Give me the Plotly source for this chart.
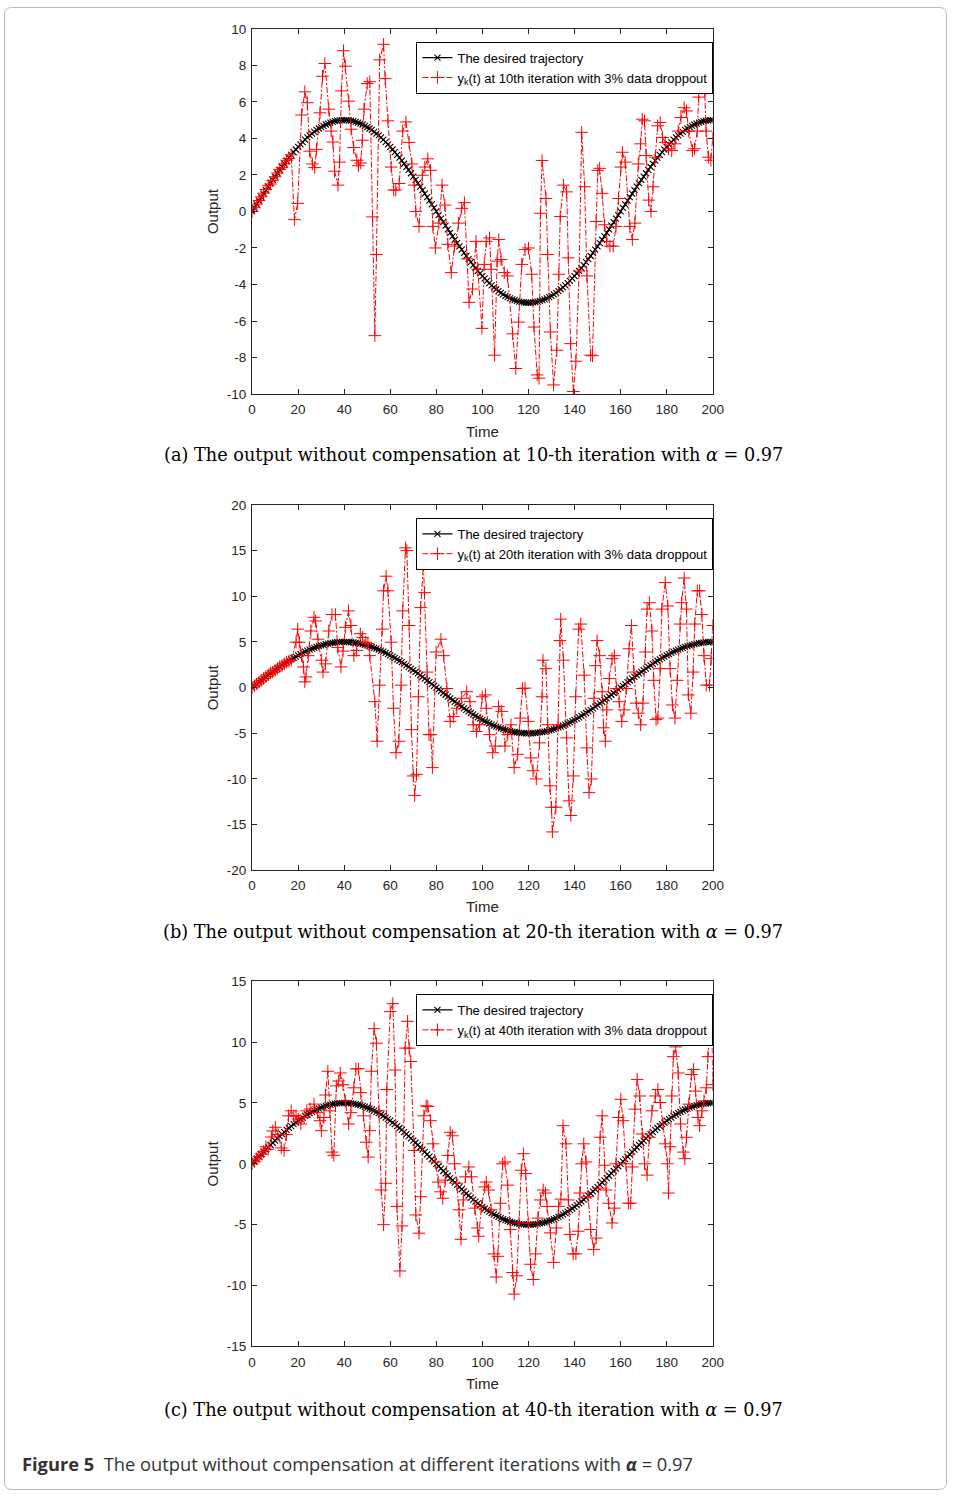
import plotly.graph_objects as go

# ---------------- data ----------------
time_desired = list(range(0, 201))
desired = [
    0.00, 0.20, 0.39, 0.59, 0.78, 0.98, 1.17, 1.36, 1.55, 1.73, 1.91, 2.09, 2.27, 2.44, 2.61, 2.78, 2.94, 3.10, 3.25, 3.39,
    3.54, 3.67, 3.80, 3.93, 4.05, 4.16, 4.26, 4.36, 4.46, 4.54, 4.62, 4.69, 4.76, 4.81, 4.86, 4.90, 4.94, 4.97, 4.98, 5.00,
    5.00, 5.00, 4.98, 4.97, 4.94, 4.90, 4.86, 4.81, 4.76, 4.69, 4.62, 4.54, 4.46, 4.36, 4.26, 4.16, 4.05, 3.93, 3.80, 3.67,
    3.54, 3.39, 3.25, 3.10, 2.94, 2.78, 2.61, 2.44, 2.27, 2.09, 1.91, 1.73, 1.55, 1.36, 1.17, 0.98, 0.78, 0.59, 0.39, 0.20,
    0.00, -0.20, -0.39, -0.59, -0.78, -0.98, -1.17, -1.36, -1.55, -1.73, -1.91, -2.09, -2.27, -2.44, -2.61, -2.78, -2.94, -3.10, -3.25, -3.39,
    -3.54, -3.67, -3.80, -3.93, -4.05, -4.16, -4.26, -4.36, -4.46, -4.54, -4.62, -4.69, -4.76, -4.81, -4.86, -4.90, -4.94, -4.97, -4.98, -5.00,
    -5.00, -5.00, -4.98, -4.97, -4.94, -4.90, -4.86, -4.81, -4.76, -4.69, -4.62, -4.54, -4.46, -4.36, -4.26, -4.16, -4.05, -3.93, -3.80, -3.67,
    -3.54, -3.39, -3.25, -3.10, -2.94, -2.78, -2.61, -2.44, -2.27, -2.09, -1.91, -1.73, -1.55, -1.36, -1.17, -0.98, -0.78, -0.59, -0.39, -0.20,
    0.00, 0.20, 0.39, 0.59, 0.78, 0.98, 1.17, 1.36, 1.55, 1.73, 1.91, 2.09, 2.27, 2.44, 2.61, 2.78, 2.94, 3.10, 3.25, 3.39,
    3.54, 3.67, 3.80, 3.93, 4.05, 4.16, 4.26, 4.36, 4.46, 4.54, 4.62, 4.69, 4.76, 4.81, 4.86, 4.90, 4.94, 4.97, 4.98, 5.00,
    5.00,
]

# panel (a): 10th iteration
time_a = [0, 1, 2, 3, 4, 5, 6, 7, 8, 9, 10, 11, 12, 13, 14, 15, 16, 17,
          18.4, 19.8, 21.5, 22.9, 24, 25, 26.2, 27.2, 28, 29.5, 30.6, 31.6, 33.3, 34.3, 35.1, 35.8, 37.3, 38, 38.8, 39.7,
          40.5, 42, 43, 44.1, 45.5, 46.2, 47.2, 47.9, 48.6, 50, 51.1, 52.3, 53.3, 54, 55.4, 57.1, 57.8, 59, 60.4, 61.5,
          62.4, 63.9, 65.4, 66.8, 68.2, 69.4, 70.4, 71.1, 72.5, 73.9, 75, 76.3, 77.5, 78.5, 79.6, 81.1, 82.5, 83.7, 85,
          86.5, 87.9, 89.6, 91, 92.2, 93.4, 94.2, 95.7, 97.2, 98, 99.8, 100.8, 101.7, 103.1, 103.8, 105.3, 106.4, 107.1,
          108.1, 109.5, 110.9, 113.1, 114.5, 115.7, 117.1, 118.5, 120, 121.4, 122.4, 123.8, 124.6, 125.2, 125.9, 127.6,
          128.3, 129.5, 130.9, 132.3, 133.2, 133.8, 135.2, 136.6, 137.3, 138.3, 139.5, 140.6, 142, 143.1, 144.4, 145.4,
          147, 147.8, 149.4, 150.1, 150.9, 152, 153, 154, 155.4, 156.8, 158, 159.1, 160.1, 160.8, 162, 164, 165.1, 166.2,
          167.7, 168.7, 169.4, 170.4, 171.1, 172.2, 173.2, 174.1, 175.1, 176.1, 177.2, 178.2, 179.4, 180.8, 182.2, 183.6,
          185, 186.2, 187.6, 188.6, 189.6, 191.2, 192.1, 193.3, 193.9, 195, 195.7, 196.6, 197.1, 198.1, 199.2, 200]
output_a = [0.0, 0.2, 0.4, 0.6, 0.8, 1.0, 1.2, 1.4, 1.5, 1.7, 1.9, 2.1, 2.3, 2.4, 2.6, 2.8, 2.9, 3.1,
            -0.45, 0.44, 5.28, 6.55, 5.95, 3.3, 2.6, 2.4, 3.4, 5.4, 7.4, 8.1, 5.6, 4.4, 3.8, 2.2, 1.44, 2.7, 6.6, 8.8,
            7.95, 6.04, 4.5, 3.5, 2.8, 2.5, 2.65, 3.9, 5.6, 7.0, 7.1, -0.3, -6.8, -2.36, 8.3, 9.15, 7.27, 4.96, 2.43, 1.17,
            1.17, 1.53, 4.4, 4.9, 3.78, 2.6, 1.44, 0.0, -0.82, 1.98, 2.43, 2.88, 2.25, -0.82, -2.0, -0.64, 1.44, 0.35, -1.8,
            -3.35, -1.9, -0.64, 0.17, 0.48, -2.6, -4.98, -4.25, -1.64, -3.17, -6.4, -2.9, -1.64, -1.45, -3.17, -7.87, -2.72, -1.54,
            -2.63, -3.35, -3.53, -6.7, -8.6, -6.06, -2.9, -2.09, -2.0, -3.44, -6.33, -8.95, -9.13, -0.1, 2.79, 0.71,
            -2.36, -6.6, -9.5, -7.6, -3.44, -0.28, 1.44, 1.07, -2.54, -7.24, -9.86, -8.2, -3.26, 4.33, 1.35, -3.53,
            -7.87, -7.9, -0.55, 2.25, 2.36, 0.99, -0.73, -1.64, -1.9, -1.9, -0.82, 0.71, 2.43, 3.24, 2.7, -0.82, -1.54, -0.64,
            2.6, 3.7, 5.05, 4.96, 3.06, 0.62, 0.0, 1.35, 2.97, 4.69, 4.87, 4.05, 3.78, 3.43, 3.33, 3.7,
            4.4, 5.14, 5.68, 5.5, 4.4, 3.33, 3.43, 4.4, 6.26, 6.76, 7.27, 6.5, 4.4, 2.97, 2.8, 4.0]

# panel (b): 20th iteration
time_b = [0, 1, 2, 3, 4, 5, 6, 7, 8, 9, 10, 11, 12, 13, 14, 15, 16, 17,
          19.1, 19.8, 20.5, 21.5, 22.3, 22.9, 23.4, 24.4, 25.5, 26.9, 27.6, 28.6, 30.2, 30.8, 31.9, 33.3, 34.7, 36.2,
          37.2, 38.6, 39.5, 40.5, 41.9, 42.9, 44.2, 45.4, 47, 48, 49.4, 50.3, 51.1, 53.3, 54.3, 55.4, 56.5, 57.1, 58.2,
          59, 60.4, 61.4, 62.5, 63.7, 64.7, 65.4, 66.6, 67.2, 68.2, 69.2, 70, 70.6, 71.4, 72.2, 73.2, 74.4, 74.9, 76,
          76.8, 77.6, 78.3, 79.9, 82, 83.2, 84.6, 86, 87.4, 88.9, 91, 93.2, 94.6, 96, 97.4, 98.8, 99.9, 101.3, 101.7,
          103.1, 104.5, 105.6, 107, 108.4, 109.8, 111, 112.4, 113.8, 115.3, 116.4, 117.4, 118.5, 119.9, 121, 122, 123.4,
          124.8, 125.9, 126.3, 127.6, 128.3, 129.3, 130, 130.4, 131.9, 132.9, 133.6, 134, 135.2, 136.6, 137.6, 138.4,
          139.5, 140.5, 141.8, 142.7, 144.2, 145.3, 146.3, 147.3, 148.4, 149.1, 149.8, 150.9, 152, 152.6, 153.4, 154,
          155.1, 156.3, 157.3, 158.2, 159.4, 160.5, 161.5, 162.5, 163.7, 164.7, 165.8, 166.8, 167.7, 168.7, 169.7,
          170.8, 171.5, 172.5, 173.6, 174.4, 175.4, 176.2, 177.2, 177.9, 179.4, 180.5, 181.5, 182.5, 183.6, 184.6,
          185.8, 186.5, 187.6, 188.6, 189.4, 190.5, 191.5, 192.2, 193.3, 194.3, 195.3, 196.2, 197.2, 198.6, 199.3, 200]
output_b = [0.0, 0.2, 0.4, 0.6, 0.8, 1.0, 1.2, 1.4, 1.6, 1.7, 1.9, 2.1, 2.3, 2.4, 2.6, 2.8, 2.9, 3.0,
            4.97, 6.4, 4.97, 3.5, 2.26, 0.63, 1.17, 3.5, 6.2, 7.7, 7.3, 5.3, 3.0, 1.7, 2.6, 6.2, 8.0, 8.0,
            4.4, 2.26, 4.0, 6.6, 8.4, 6.8, 3.5, 4.07, 5.9, 5.5, 4.97, 4.8, 3.5, -1.54, -5.87, 0.27, 6.4, 10.6, 12.2,
            10.6, 4.97, -2.26, -7.13, -5.87, 0.27, 8.4, 15.3, 15.0, 6.8, -4.6, -9.67, -11.8, -9.5, -1.0, 8.76, 13.5, 10.4, 1.7,
            -5.15, -5.15, -8.76, 3.9, 5.3, 3.5, -0.1, -3.7, -3.17, -2.26, -1.17, -0.45, -1.54, -4.07, -4.8, -4.07, -1.0, -0.8, -2.26,
            -5.15, -7.13, -6.4, -2.08, -2.6, -6.4, -5.15, -4.07, -8.76, -7.3, -3.34, -0.1, -0.05, -3.7, -7.7, -9.1, -10.0,
            -6.05, -1.0, 3.0, 2.08, -4.07, -10.75, -13.1, -15.8, -13.1, -4.07, 5.15, 7.5, 3.0, -5.5, -12.4, -14.0,
            -9.67, -1.0, 6.4, 6.96, 1.36, -6.6, -11.5, -10.0, -1.17, 2.4, 5.15, 3.5, -0.45, -4.4, -5.87, -2.44,
            1.0, 3.17, 3.5, -0.1, -1.54, -3.7, -2.44, -0.1, 4.25, 6.8, 1.7, -1.7, -2.8, -4.07, -1.7,
            3.9, 8.6, 9.3, 6.2, 0.8, -3.5, -3.34, 2.08, 8.6, 11.5, 8.94, 2.08, -1.9, -3.34, 0.8,
            6.96, 9.3, 12.0, 8.6, -0.8, -2.8, 1.7, 6.96, 10.6, 10.6, 8.0, 3.5, 0.27, 0.27, 3.17, 6.8]

# panel (c): 40th iteration
time_c = [0, 1, 2, 3, 4, 5, 6, 7, 8.4, 9, 10.1, 11.3, 12.7, 13.9, 14.9, 15.8, 17, 18.1, 19.1, 20.1, 21.2, 22.6,
          23.8, 25.2, 26.9, 28.4, 29.5, 30.1, 31.2, 31.9, 32.9, 33.8, 34.7, 35.5, 36.6, 37.6, 38.3, 39.5, 40.5, 41.9,
          42.9, 44.2, 45.1, 46.2, 47.2, 48.4, 49.6, 50.4, 51.1, 51.8, 53, 54, 55.1, 56.1, 57.1, 58, 58.5, 60, 61.1,
          62.1, 62.9, 64.2, 65.1, 66.5, 67.5, 68.2, 68.9, 70.4, 71.1, 72.5, 73.2, 74.6, 75.6, 76.3, 77.5, 78.5, 79.6,
          80.8, 81.8, 82.8, 83.9, 85, 86, 87, 87.9, 88.9, 89.9, 90.7, 91.7, 92.7, 94.1, 95.3, 96.7, 97.9, 98.4, 99.6,
          101, 101.7, 102.7, 103.8, 105, 106, 106.7, 107.8, 108.8, 109.8, 111, 112.1, 113.1, 113.8, 114.9, 115.9,
          116.9, 117.8, 118.8, 119.9, 120.9, 122.1, 123.1, 124.1, 125.2, 126.4, 127.4, 128.1, 129.5, 130.9, 132.1,
          133.1, 134.1, 135, 136.3, 137.3, 138, 139.4, 140.6, 141.6, 142.3, 143.1, 144, 145, 145.9, 147, 148.3, 149.4,
          150.4, 151.1, 152, 153, 153.7, 154.8, 156.3, 157.3, 158, 159.1, 160.1, 161.1, 162.3, 163.4, 164.4, 165.1,
          166.2, 167.2, 168.3, 169.4, 170.4, 171.5, 172.5, 173.6, 175.1, 176.2, 177.2, 178.4, 179.4, 180.3, 180.8,
          181.5, 182.2, 182.9, 183.9, 185, 186, 187.2, 187.9, 188.6, 189.6, 190.7, 191.7, 192.6, 193.6, 194.3, 195.3,
          196.2, 197.2, 197.9, 198.6, 199.6, 200]
output_c = [0.0, 0.2, 0.4, 0.6, 0.8, 1.0, 1.4, 1.2, 2.2, 2.7, 3.0, 2.4, 1.3, 1.1, 2.4, 3.94, 4.35, 3.94, 3.94, 3.67, 3.27, 3.8,
            4.35, 4.5, 4.9, 4.2, 3.54, 2.72, 3.8, 5.65, 7.6, 4.35, 0.96, 0.7, 6.4, 6.8, 7.46, 6.5, 5.16, 3.27,
            4.2, 6.24, 7.8, 7.8, 5.84, 3.94, 1.77, 0.55, 2.72, 7.6, 11.1, 9.9, 4.35, -2.15, -5.0, -1.6, 6.1, 12.5, 13.15,
            7.7, -3.5, -8.8, -5.1, 9.5, 11.7, 9.5, 8.4, 1.1, -4.2, -5.7, -2.7, 3.94, 4.76, 4.7, 3.54, 1.64, 0.15,
            -1.5, -2.3, -2.83, -1.34, 0.69, 2.59, 2.3, 0.0, -1.6, -3.78, -6.2, -2.97, -1.07, -0.26, -1.07, -3.64, -5.27, -5.95, -3.5,
            -1.9, -1.5, -2.15, -3.78, -7.4, -9.3, -7.6, -3.24, 0.0, 0.15, -1.75, -5.4, -8.93, -10.7, -9.2, -4.86,
            -0.53, 0.83, -0.8, -4.86, -8.25, -9.5, -7.4, -4.46, -2.97, -2.15, -2.4, -3.5, -5.67, -8.1, -5.27,
            -3.5, -2.9, 3.13, 1.64, -2.97, -5.8, -7.4, -7.4, -5.54, -2.4, 0.0, 1.64, 0.15, -2.7, -5.4, -7.03, -6.1,
            -2.0, 2.18, 3.94, -0.12, -2.15, -3.24, -4.86, -3.64, 0.0, 3.8, 5.3, 3.54, 0.0, -3.24, -3.24, -0.26,
            4.49, 6.93, 5.57, 2.45, 0.0, -0.93, 2.18, 4.35, 5.57, 6.1, 5.03, 3.27, 1.64, 0.0, -2.4,
            1.4, 5.57, 8.8, 9.6, 7.46, 3.27, 0.96, 0.42, 2.18, 4.9, 7.33, 7.74, 5.97, 3.8, 3.13, 4.35,
            5.16, 6.24, 8.8, 11.0, 12.07, 6.5]

x_ticks = [0, 20, 40, 60, 80, 100, 120, 140, 160, 180, 200]
y_ticks_a = [-10, -8, -6, -4, -2, 0, 2, 4, 6, 8, 10]
y_ticks_b = [-20, -15, -10, -5, 0, 5, 10, 15, 20]
y_ticks_c = [-15, -10, -5, 0, 5, 10, 15]
iterations = ["10th", "20th", "40th"]
panel_letters = ["a", "b", "c"]
iteration_captions = ["10-th", "20-th", "40-th"]

# ---------------- layout helpers ----------------
W, H = 958, 1498
X0, X1 = 252, 720
panels_px = [(22, 391), (503, 872), (984, 1353)]
legend_top_px = [35, 516, 997]
caption_px = [453, 934, 1417]
time_px = [429, 909, 1390]

AX = "#262626"
SANS = "Liberation Sans, Arial, sans-serif"
TICK_FONT = dict(family=SANS, size=13.5, color=AX)

fig = go.Figure()
series = [(time_a, output_a), (time_b, output_b), (time_c, output_c)]
yticks = [y_ticks_a, y_ticks_b, y_ticks_c]

for i in range(3):
    xa = "x" if i == 0 else f"x{i+1}"
    ya = "y" if i == 0 else f"y{i+1}"
    lg = "legend" if i == 0 else f"legend{i+1}"
    fig.add_trace(go.Scatter(
        x=time_desired, y=desired, xaxis=xa, yaxis=ya, legend=lg,
        mode="lines+markers", name="The desired trajectory",
        line=dict(color="black", width=1.2),
        marker=dict(symbol="x-thin", size=6, line=dict(color="black", width=1.1), color="black"),
    ))
    t, v = series[i]
    fig.add_trace(go.Scatter(
        x=t, y=v, xaxis=xa, yaxis=ya, legend=lg,
        mode="lines+markers",
        name=f"y<sub>k</sub>(t) at {iterations[i]} iteration with 3% data droppout",
        line=dict(color="red", width=1, dash="6px,2px,2px,2px"),
        marker=dict(symbol="cross-thin", size=9, line=dict(color="red", width=1), color="red"),
    ))

layout = dict(
    width=W, height=H, margin=dict(l=0, r=0, t=0, b=0), autosize=False,
    paper_bgcolor="white", plot_bgcolor="white", showlegend=True,
)
annotations = []
for i in range(3):
    top, bot = panels_px[i]
    sfx = "" if i == 0 else str(i + 1)
    yt = yticks[i]
    layout[f"xaxis{sfx}"] = dict(
        domain=[X0 / W, X1 / W], anchor=f"y{sfx}", range=[0, 200],
        tickvals=x_ticks, ticktext=[str(v) for v in x_ticks], ticklabelstandoff=3,
        showline=True, linecolor=AX, linewidth=1, mirror="ticks", ticks="inside", ticklen=5,
        tickcolor=AX, showgrid=False, zeroline=False, tickfont=TICK_FONT,
    )
    layout[f"yaxis{sfx}"] = dict(
        domain=[1 - bot / H, 1 - top / H], anchor=f"x{sfx}", range=[yt[0], yt[-1]],
        tickvals=yt, ticktext=[str(v) for v in yt], ticklabelstandoff=2,
        showline=True, linecolor=AX, linewidth=1, mirror="ticks", ticks="inside", ticklen=5,
        tickcolor=AX, showgrid=False, zeroline=False, tickfont=TICK_FONT,
    )
    lg = "legend" if i == 0 else f"legend{i+1}"
    layout[lg] = dict(
        x=419 / W, y=1 - legend_top_px[i] / H, xanchor="left", yanchor="top",
        bgcolor="white", bordercolor="black", borderwidth=1,
        font=dict(family=SANS, size=13, color="black"),
        itemwidth=30, tracegroupgap=0,
    )
    annotations.append(dict(
        x=(X0 + X1) / 2 / W, y=1 - time_px[i] / H, xref="paper", yref="paper",
        xanchor="center", yanchor="middle",
        text="Time", showarrow=False, font=dict(family=SANS, size=15, color=AX),
    ))
    annotations.append(dict(
        x=212 / W, y=1 - (top + bot) / 2 / H, xref="paper", yref="paper", textangle=-90,
        xanchor="center", yanchor="middle",
        text="Output", showarrow=False, font=dict(family=SANS, size=15, color=AX),
    ))
    annotations.append(dict(
        x=476.5 / W, y=1 - caption_px[i] / H, xref="paper", yref="paper",
        xanchor="center", yanchor="middle",
        text=f"({panel_letters[i]}) The output without compensation at {iteration_captions[i]} iteration with <i>α</i> = 0.97",
        showarrow=False, font=dict(family="DejaVu Serif, serif", size=17.7, color="black"),
    ))

annotations.append(dict(
    x=16 / W, y=1 - 1471 / H, xref="paper", yref="paper", xanchor="left", yanchor="middle",
    text="<b>Figure 5</b>  The output without compensation at different iterations with <b><i>α</i></b> = 0.97",
    showarrow=False, font=dict(family="Open Sans, Noto Sans, sans-serif", size=18.3, color="#333333"),
))
layout["annotations"] = annotations
layout["shapes"] = [dict(
    type="path", xref="paper", yref="paper",
    path=f"M {8/W},{1-0.5/H} L {1-8/W},{1-0.5/H} Q {1-0.5/W},{1-0.5/H} {1-0.5/W},{1-8/H} "
         f"L {1-0.5/W},{8/H} Q {1-0.5/W},{0.5/H} {1-8/W},{0.5/H} L {8/W},{0.5/H} "
         f"Q {0.5/W},{0.5/H} {0.5/W},{8/H} L {0.5/W},{1-8/H} Q {0.5/W},{1-0.5/H} {8/W},{1-0.5/H} Z",
    line=dict(color="#bbbbbb", width=1),
)]
fig.update_layout(**layout)
fig.write_html(
    "out.html",
    config={"displayModeBar": False, "responsive": False},
    post_script=(
        "document.documentElement.style.margin='0';document.documentElement.style.padding='0';"
        "document.documentElement.style.overflow='hidden';"
        "document.body.style.margin='0';document.body.style.padding='0';document.body.style.overflow='hidden';"
        "var gd=document.getElementById('{plot_id}');"
        "gd.style.position='fixed';gd.style.left='0px';gd.style.top='0px';"
    ),
)
